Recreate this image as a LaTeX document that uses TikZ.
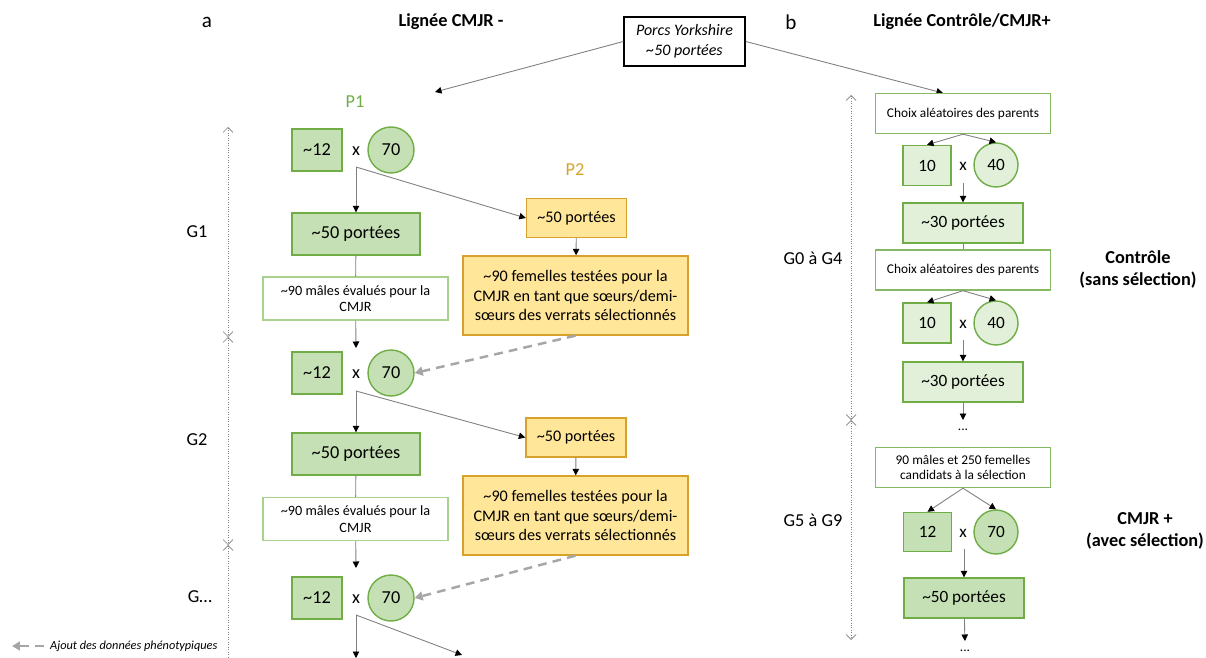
\documentclass[tikz,border=0pt]{standalone}
\usepackage{fontspec}
\setmainfont{Carlito}
\usetikzlibrary{arrows.meta}

\definecolor{cgreen}{HTML}{70AD47}
\definecolor{cgreenfill}{HTML}{C5E0B4}
\definecolor{clightfill}{HTML}{E2F0D9}
\definecolor{cwhiteline}{HTML}{A9D18E}
\definecolor{cgold}{HTML}{D6A22B}
\definecolor{cgoldfill}{HTML}{FFE699}
\definecolor{cpheno}{HTML}{A6A6A6}
\definecolor{cline}{HTML}{7F7F7F}

\newcommand{\tild}{\textasciitilde}

\begin{document}
\begin{tikzpicture}[x=0.02cm, y=-0.02cm,
    malebox/.style={draw=cgreen, fill=cgreenfill, line width=0.8pt, minimum width=1cm, minimum height=0.84cm, inner sep=0pt, font=\fontsize{10.4}{12}\selectfont},
    femalecirc/.style={circle, draw=cgreen, fill=cgreenfill, line width=0.8pt, minimum size=0.92cm, inner sep=0pt, font=\fontsize{10.4}{12}\selectfont},
    litter/.style={draw=cgreen, fill=cgreenfill, line width=0.8pt, minimum width=2.56cm, minimum height=0.84cm, font=\fontsize{10.4}{12}\selectfont},
    evalbox/.style={draw=cwhiteline, fill=white, line width=0.8pt, minimum width=3.7cm, minimum height=0.86cm, align=center, font=\fontsize{8.1}{9.5}\selectfont},
    goldsmall/.style={draw=cgold, fill=cgoldfill, line width=0.8pt, minimum width=2cm, minimum height=0.78cm, font=\fontsize{9.2}{11}\selectfont},
    goldbig/.style={draw=cgold, fill=cgoldfill, line width=0.8pt, minimum width=4.5cm, minimum height=1.58cm, align=center, font=\fontsize{9.2}{11.3}\selectfont},
    choixbox/.style={draw=cgreen!85, fill=white, line width=0.8pt, minimum width=3.5cm, minimum height=0.8cm, align=center, font=\fontsize{7.6}{8.9}\selectfont},
    pigbox/.style={draw=black, line width=0.8pt, minimum width=2.42cm, minimum height=0.98cm, align=center, font=\fontsize{9.1}{11.2}\selectfont\itshape},
    cross/.style={inner sep=0pt, font=\fontsize{10.4}{12}\selectfont},
    dots/.style={inner sep=0pt, text height=0.6em, text depth=0pt, font=\fontsize{7.6}{9}\selectfont},
    head/.style={font=\fontsize{10.4}{12.5}\selectfont\bfseries},
    genlabel/.style={font=\fontsize{10.4}{12.5}\selectfont},
    conn/.style={draw=cline, line width=0.5pt, -{Triangle[length=1.3mm,width=1.3mm,color=black]}},
    plain/.style={draw=cline, line width=0.5pt},
    pheno/.style={draw=cpheno, line width=1.4pt, dash pattern=on 5pt off 3.5pt, -{Triangle[length=1.6mm,width=1.8mm]}},
    gen/.style={draw=gray, densely dotted, line width=0.4pt, {Straight Barb[length=1mm,width=2mm]}-{Straight Barb[length=1mm,width=2mm]}}
]
    \useasboundingbox (0,0) rectangle (1206,658);

    % titres
    \node[font=\fontsize{12}{14}\selectfont] (ta) at (207,22) {a};
    \node[head] (hA) at (451,22) {Lignée CMJR -};
    \node[font=\fontsize{12}{14}\selectfont] (tb) at (791,22) {b};
    \node[head] (hB) at (962,22) {Lignée Contrôle/CMJR+};
    \node[pigbox] (pig) at (684.5,41.5) {Porcs Yorkshire\\\tild50 portées};
    \coordinate (la) at (435,92);
    \coordinate (lb) at (943,93);
    \draw[conn] (pig.west) -- (la);
    \draw[conn] (pig.east) -- (lb);

    % lignee a
    \node[genlabel, text=cgreen] (P1) at (355,102) {P1};
    \node[genlabel, text=cgold] (P2) at (575,170) {P2};

    \draw[gen] (228,127) -- (228,337);
    \draw[gen] (228,337) -- (228,545);
    \draw[gen] (228,545) -- (228,675);
    \node[genlabel] (g1) at (197,232) {G1};
    \node[genlabel] (g2) at (197,440) {G2};
    \node[genlabel] (g3) at (200,597) {G\dots};

    % G1
    \node[malebox] (m1) at (317,150) {\tild12};
    \node[cross] (x1) at (356,151) {x};
    \node[femalecirc] (f1) at (391,150) {70};
    \coordinate (k1) at (356,167);
    \node[litter] (l1) at (356,234) {\tild50 portées};
    \node[evalbox] (w1) at (355.5,298.5) {\tild90 mâles évalués pour la\\CMJR};
    \node[goldsmall] (y1) at (576.5,218) {\tild50 portées};
    \node[goldbig] (yb1) at (575.5,295.5) {\tild90 femelles testées pour la\\CMJR en tant que sœurs/demi-\\sœurs des verrats sélectionnés};
    \coordinate (a2) at (356,348);
    \draw[conn] (k1) -- (l1);
    \draw[conn] (k1) -- (y1.west);
    \draw[plain] (l1) -- (w1);
    \draw[conn] (w1) -- (a2);
    \draw[conn] (y1) -- (yb1);

    % G2
    \node[malebox] (m2) at (317,373) {\tild12};
    \node[cross] (x2) at (356,374) {x};
    \node[femalecirc] (f2) at (391,373) {70};
    \coordinate (k2) at (356,391);
    \node[litter] (l2) at (356,454) {\tild50 portées};
    \node[evalbox] (w2) at (355.5,519) {\tild90 mâles évalués pour la\\CMJR};
    \node[goldsmall] (y2) at (576,437.5) {\tild50 portées};
    \node[goldbig] (yb2) at (575.5,515.5) {\tild90 femelles testées pour la\\CMJR en tant que sœurs/demi-\\sœurs des verrats sélectionnés};
    \coordinate (a3) at (356,568);
    \draw[pheno] (yb1.south) -- (f2.east);
    \draw[conn] (k2) -- (l2);
    \draw[conn] (k2) -- (y2.west);
    \draw[plain] (l2) -- (w2);
    \draw[conn] (w2) -- (a3);
    \draw[conn] (y2) -- (yb2);

    % G...
    \node[malebox] (m3) at (317,598) {\tild12};
    \node[cross] (x3) at (356,599) {x};
    \node[femalecirc] (f3) at (391,598) {70};
    \coordinate (k3) at (356,615);
    \coordinate (e3a) at (356,658);
    \coordinate (e3b) at (462,655);
    \draw[pheno] (yb2.south) -- (f3.east);
    \draw[conn] (k3) -- (e3a);
    \draw[conn] (k3) -- (e3b);

    % legende
    \node[anchor=west, font=\fontsize{7}{8.5}\selectfont\itshape] (leg) at (44,646) {Ajout des données phénotypiques};
    \coordinate (lg0) at (12,646);
    \draw[pheno, line width=1.1pt] (leg.west) -- (lg0);

    % lignee b
    \draw[gen] (851,95) -- (851,420);
    \draw[gen] (851,420) -- (851,640);
    \node[genlabel] (g04) at (813,258) {G0 à G4};
    \node[genlabel] (g59) at (813,520) {G5 à G9};
    \node[head, align=center] (ctrl) at (1138,269.5) {Contrôle\\(sans sélection)};
    \node[head, align=center] (plus) at (1145,530.5) {CMJR +\\(avec sélection)};

    \node[choixbox] (c1) at (963,113.5) {Choix aléatoires des parents};
    \node[malebox, fill=clightfill, minimum width=0.96cm, minimum height=0.8cm, font=\fontsize{9.8}{11}\selectfont] (r1) at (927,165.5) {10};
    \node[cross, font=\fontsize{9.8}{11}\selectfont] (xr1) at (963,166) {x};
    \node[femalecirc, fill=clightfill, minimum size=0.88cm, font=\fontsize{9.8}{11}\selectfont] (fr1) at (996,165) {40};
    \coordinate (kr1) at (963,183);
    \node[litter, fill=clightfill, minimum width=2.4cm, minimum height=0.8cm, font=\fontsize{9.8}{11}\selectfont] (p1) at (963,223) {\tild30 portées};
    \draw[conn] (c1.south) -- (r1.north);
    \draw[conn] (c1.south) -- (fr1.north);
    \draw[conn] (kr1) -- (p1);

    \node[choixbox] (c2) at (963,270) {Choix aléatoires des parents};
    \node[malebox, fill=clightfill, minimum width=0.96cm, minimum height=0.8cm, font=\fontsize{9.8}{11}\selectfont] (r2) at (927,323) {10};
    \node[cross, font=\fontsize{9.8}{11}\selectfont] (xr2) at (963,324) {x};
    \node[femalecirc, fill=clightfill, minimum size=0.88cm, font=\fontsize{9.8}{11}\selectfont] (fr2) at (996,323) {40};
    \coordinate (kr2) at (963,340);
    \node[litter, fill=clightfill, minimum width=2.4cm, minimum height=0.8cm, font=\fontsize{9.8}{11}\selectfont] (p2) at (963,382) {\tild30 portées};
    \node[dots, anchor=north] (d1) at (963,420) {...};
    \draw[plain] (p1) -- (c2);
    \draw[conn] (c2.south) -- (r2.north);
    \draw[conn] (c2.south) -- (fr2.north);
    \draw[conn] (kr2) -- (p2);
    \draw[conn] (p2) -- (d1);

    \node[choixbox] (s1) at (963,467.5) {90 mâles et 250 femelles\\candidats à la sélection};
    \node[malebox, minimum width=0.96cm, minimum height=0.78cm, font=\fontsize{9.8}{11}\selectfont] (r3) at (927.5,532) {12};
    \node[cross, font=\fontsize{9.8}{11}\selectfont] (xr3) at (963,533) {x};
    \node[femalecirc, minimum size=0.88cm, font=\fontsize{9.8}{11}\selectfont] (fr3) at (996,532) {70};
    \coordinate (kr3) at (964,549);
    \node[litter, minimum width=2.4cm, minimum height=0.8cm, font=\fontsize{9.8}{11}\selectfont] (p3) at (964,598) {\tild50 portées};
    \node[dots, anchor=north] (d2) at (965,641) {...};
    \draw[conn] (s1.south) -- (r3.north);
    \draw[conn] (s1.south) -- (fr3.north);
    \draw[conn] (kr3) -- (p3);
    \draw[conn] (p3) -- (d2);
\end{tikzpicture}
\end{document}
